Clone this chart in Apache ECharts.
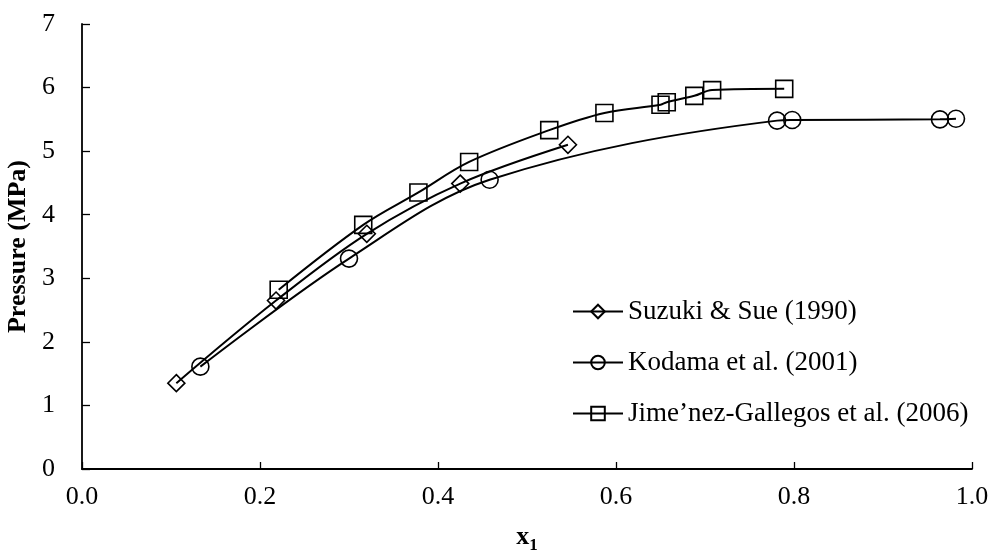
<!DOCTYPE html>
<html>
<head>
<meta charset="utf-8">
<script src="https://cdn.jsdelivr.net/npm/echarts@6/dist/echarts.min.js"></script>
<style>
  html, body { margin: 0; padding: 0; background: #fff; }
  #chart { width: 993px; height: 552px; }
</style>
</head>
<body>
<div id="chart"></div>
<script>
// Vapour–liquid equilibrium data: pressure vs. liquid mole fraction x1
const seriesNames = [
  'Suzuki & Sue (1990)',
  'Kodama et al. (2001)',
  'Jime\u2019nez-Gallegos et al. (2006)'
];

const suzukiX = [0.106, 0.218, 0.320, 0.425, 0.546];
const suzukiP = [1.35, 2.65, 3.70, 4.49, 5.10];

const kodamaX = [0.133, 0.300, 0.458, 0.781, 0.798, 0.964, 0.982];
const kodamaP = [1.61, 3.31, 4.55, 5.48, 5.49, 5.50, 5.51];

const jimenezX = [0.221, 0.316, 0.378, 0.435, 0.525, 0.587, 0.650, 0.657, 0.688, 0.708, 0.789];
const jimenezP = [2.82, 3.84, 4.35, 4.83, 5.33, 5.60, 5.73, 5.77, 5.87, 5.96, 5.98];

const xTicks = { min: 0, max: 1, interval: 0.2 };
const yTicks = { min: 0, max: 7, interval: 1 };

const FONT = '"Liberation Serif", "Times New Roman", serif';

function pairs(xs, ys) {
  return xs.map((x, i) => [x, ys[i]]);
}

function makeSeries(name, symbol, xs, ys) {
  return {
    name: name,
    type: 'line',
    data: pairs(xs, ys),
    smooth: 0.35,
    symbol: symbol,
    symbolSize: 17,
    showAllSymbol: true,
    lineStyle: { color: '#000', width: 2 },
    itemStyle: { color: 'rgba(0,0,0,0)', borderColor: '#000', borderWidth: 1.6 },
    emphasis: { disabled: true },
    animation: false
  };
}

const chart = echarts.init(document.getElementById('chart'));

chart.setOption({
  backgroundColor: '#fff',
  animation: false,
  grid: { left: 82, right: 21, top: 24, bottom: 83, containLabel: false, outerBoundsMode: 'none' },
  legend: {
    orient: 'vertical',
    left: 567,
    top: 293,
    itemWidth: 50,
    itemHeight: 17,
    itemGap: 24,
    data: seriesNames,
    textStyle: { fontFamily: FONT, fontSize: 27, color: '#000' }
  },
  xAxis: {
    type: 'value',
    min: xTicks.min,
    max: xTicks.max,
    interval: xTicks.interval,
    name: '{x|x}{s|1}',
    nameLocation: 'middle',
    nameGap: 52,
    nameTextStyle: {
      rich: {
        x: { fontFamily: FONT, fontSize: 26, fontWeight: 'bold', color: '#000' },
        s: { fontFamily: FONT, fontSize: 17, fontWeight: 'bold', color: '#000', padding: [16, 0, 0, 0] }
      }
    },
    splitLine: { show: false },
    axisLine: { lineStyle: { color: '#000', width: 1.8 } },
    axisTick: { inside: true, length: 7, lineStyle: { color: '#000', width: 1.3 } },
    axisLabel: {
      margin: 15,
      fontFamily: FONT,
      fontSize: 26,
      color: '#000',
      formatter: v => v.toFixed(1)
    }
  },
  yAxis: {
    type: 'value',
    min: yTicks.min,
    max: yTicks.max,
    interval: yTicks.interval,
    name: 'Pressure (MPa)',
    nameLocation: 'middle',
    nameGap: 44,
    nameTextStyle: { fontFamily: FONT, fontSize: 26, fontWeight: 'bold', color: '#000' },
    splitLine: { show: false },
    axisLine: { show: true, lineStyle: { color: '#000', width: 1.8 } },
    axisTick: { show: true, inside: true, length: 8, lineStyle: { color: '#000', width: 1.3 } },
    axisLabel: { margin: 27, fontFamily: FONT, fontSize: 26, color: '#000' }
  },
  series: [
    makeSeries(seriesNames[0], 'diamond', suzukiX, suzukiP),
    makeSeries(seriesNames[1], 'circle', kodamaX, kodamaP),
    makeSeries(seriesNames[2], 'rect', jimenezX, jimenezP)
  ]
});
</script>
</body>
</html>
